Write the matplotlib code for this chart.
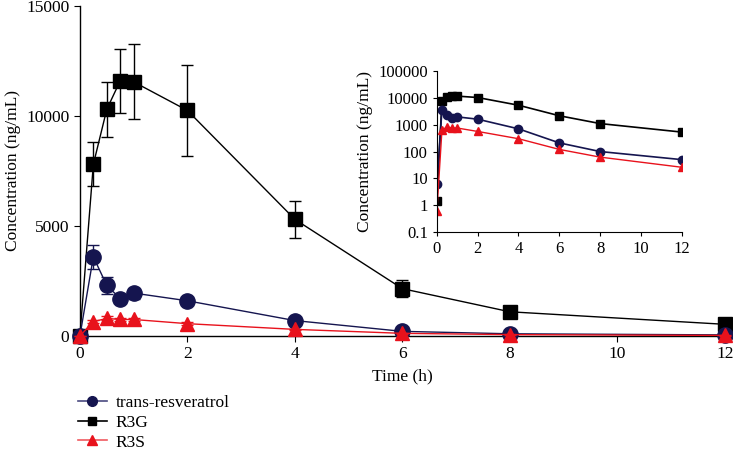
import numpy as np
import matplotlib
matplotlib.use("Agg")
import matplotlib.pyplot as plt
from matplotlib.lines import Line2D

plt.rcParams['font.family'] = ['Liberation Serif', 'DejaVu Serif']
plt.rcParams['font.size'] = 12

# time points (h)
t = [0, 0.25, 0.5, 0.75, 1, 2, 4, 6, 8, 12]

# mean concentrations (ng/mL)
res = [0, 3600, 2300, 1700, 1950, 1600, 700, 210, 100, 50]
r3g = [0, 7800, 10300, 11600, 11550, 10250, 5300, 2150, 1100, 530]
r3s = [0, 650, 800, 750, 750, 560, 300, 120, 62, 26]

# standard deviations
res_sd = [0, 550, 400, 120, 250, 100, 60, 30, 15, 8]
r3g_sd = [0, 1000, 1250, 1450, 1700, 2050, 850, 380, 280, 100]
r3s_sd = [0, 80, 90, 70, 80, 60, 40, 20, 10, 5]

# values at t=0 for the log inset
res_log = [6] + res[1:]
r3g_log = [1.5] + r3g[1:]
r3s_log = [0.6] + r3s[1:]

navy = '#15154f'
red = '#e8121c'

fig = plt.figure(figsize=(7.33, 4.49), dpi=100)
ax = fig.add_axes([0.109, 0.2517, 0.88, 0.735])

ax.errorbar(t, r3g, yerr=r3g_sd, color='black', marker='s', ms=9.5, lw=1,
            capsize=4.5, elinewidth=1, zorder=3, clip_on=False)
ax.errorbar(t, res, yerr=res_sd, color=navy, marker='o', ms=11, lw=1,
            capsize=4.5, elinewidth=1, zorder=4, clip_on=False)
ax.errorbar(t, r3s, yerr=r3s_sd, color=red, marker='^', ms=10.5, lw=1,
            capsize=4.5, elinewidth=1, zorder=5, clip_on=False)

ax.set_xlim(0, 12)
ax.set_ylim(0, 15000)
ax.set_xticks([0, 2, 4, 6, 8, 10, 12])
ax.set_yticks([0, 5000, 10000, 15000])
ax.set_xlabel('Time (h)', fontsize=12.5)
ax.set_ylabel('Concentration (ng/mL)', fontsize=12.5)
ax.spines['top'].set_visible(False)
ax.spines['right'].set_visible(False)
ax.tick_params(direction='out', length=4, width=0.8, labelsize=12.5)
for s in ax.spines.values():
    s.set_linewidth(1)

# inset, log scale
ins = fig.add_axes([0.596, 0.483, 0.334, 0.359])
ins.plot(t, r3g_log, color='black', marker='s', ms=5.5, lw=1.2)
ins.plot(t, res_log, color=navy, marker='o', ms=6, lw=1.2)
ins.plot(t, r3s_log, color=red, marker='^', ms=5.5, lw=1)
ins.set_yscale('log')
ins.set_xlim(0, 12)
ins.set_ylim(0.1, 100000)
ins.set_xticks([0, 2, 4, 6, 8, 10, 12])
ins.set_yticks([0.1, 1, 10, 100, 1000, 10000, 100000])
ins.set_yticklabels(['0.1', '1', '10', '100', '1000', '10000', '100000'])
ins.minorticks_off()
ins.set_ylabel('Concentration (ng/mL)', fontsize=12.5)
ins.spines['top'].set_visible(False)
ins.spines['right'].set_visible(False)
ins.tick_params(direction='out', length=3, width=0.8, labelsize=12)

handles = [
    Line2D([], [], color='#4a4a80', marker='o', ms=7, mfc=navy, mec=navy, lw=1.2),
    Line2D([], [], color='black', marker='s', ms=6, lw=1.2),
    Line2D([], [], color='#f05a60', marker='^', ms=7, mfc=red, mec=red, lw=1.2),
]
labels = ['trans-resveratrol', 'R3G', 'R3S']
fig.legend(handles, labels, loc='upper left',
           bbox_to_anchor=(0.106, 0.12), frameon=False, handlelength=1.7,
           labelspacing=0.2, borderpad=0, borderaxespad=0,
           handletextpad=0.5, fontsize=12.5)

fig.savefig('out.png', dpi=100)
